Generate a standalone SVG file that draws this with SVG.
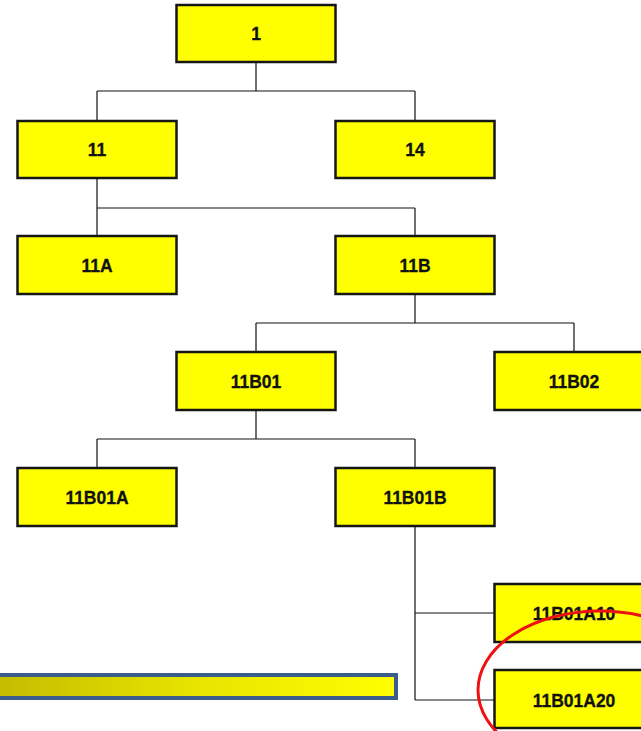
<svg xmlns="http://www.w3.org/2000/svg" width="641" height="731" viewBox="0 0 641 731">
<defs>
<linearGradient id="barGrad" x1="0" y1="0" x2="1" y2="0">
<stop offset="0" stop-color="#c4bc00"/>
<stop offset="0.5" stop-color="#e8e400"/>
<stop offset="1" stop-color="#ffff00"/>
</linearGradient>
<style>
.box{fill:#ffff00;stroke:#161616;stroke-width:2.5}
.lbl{font-family:"Liberation Sans",Arial,sans-serif;font-weight:bold;font-size:17.5px;fill:#111;stroke:#111;stroke-width:0.3;text-anchor:middle}
.con{fill:none;stroke:#111;stroke-width:1.2}
</style>
</defs>
<rect width="641" height="731" fill="#ffffff"/>
<g id="connectors">
<path class="con" d="M256,62 V91 M97,91 H415 M97,91 V121 M415,91 V121"/>
<path class="con" d="M97,179 V208 M97,208 H415 M97,208 V236 M415,208 V236"/>
<path class="con" d="M415,294 V323 M256,323 H574 M256,323 V352 M574,323 V352"/>
<path class="con" d="M256,410 V439 M97,439 H415 M97,439 V468 M415,439 V468"/>
<path class="con" d="M415,526 V700 M415,613 H494 M415,700 H494"/>
</g>
<g id="n1"><rect class="box" x="176.5" y="5" width="159" height="57"/><text class="lbl" x="256" y="40">1</text></g>
<g id="n11"><rect class="box" x="17.5" y="121" width="159" height="57"/><text class="lbl" x="97" y="156">11</text></g>
<g id="n14"><rect class="box" x="335.5" y="121" width="159" height="57"/><text class="lbl" x="415" y="156">14</text></g>
<g id="n11A"><rect class="box" x="17.5" y="236" width="159" height="58"/><text class="lbl" x="97" y="272">11A</text></g>
<g id="n11B"><rect class="box" x="335.5" y="236" width="159" height="58"/><text class="lbl" x="415" y="272">11B</text></g>
<g id="n11B01"><rect class="box" x="176.5" y="352" width="159" height="58"/><text class="lbl" x="256" y="388">11B01</text></g>
<g id="n11B02"><rect class="box" x="494.5" y="352" width="159" height="58"/><text class="lbl" x="574" y="388">11B02</text></g>
<g id="n11B01A"><rect class="box" x="17.5" y="468" width="159" height="58"/><text class="lbl" x="97" y="504">11B01A</text></g>
<g id="n11B01B"><rect class="box" x="335.5" y="468" width="159" height="58"/><text class="lbl" x="415" y="504">11B01B</text></g>
<g id="n11B01A10"><rect class="box" x="494.5" y="584" width="159" height="58"/><text class="lbl" x="574" y="620">11B01A10</text></g>
<g id="n11B01A20"><rect class="box" x="494.5" y="670" width="159" height="58"/><text class="lbl" x="574" y="707">11B01A20</text></g>
<rect x="-2" y="675" width="398" height="23" fill="url(#barGrad)" stroke="#3a5d8c" stroke-width="4"/>
<ellipse cx="600" cy="690" rx="122" ry="79" fill="none" stroke="#ee1111" stroke-width="3"/>
</svg>
